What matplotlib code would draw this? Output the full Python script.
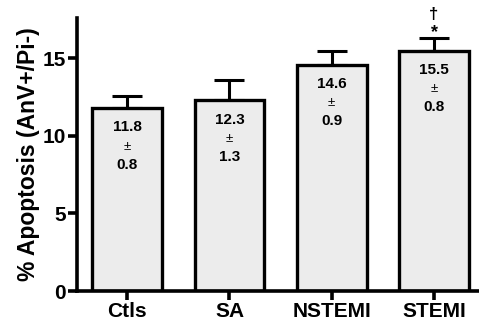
import numpy as np
import matplotlib
matplotlib.use('Agg')
import matplotlib.pyplot as plt

plt.rcParams['font.family'] = ['Liberation Sans', 'DejaVu Sans']

groups = ['Ctls', 'SA', 'NSTEMI', 'STEMI']
means = [11.8, 12.3, 14.6, 15.5]
sems = [0.8, 1.3, 0.9, 0.8]
yticks = [0, 5, 10, 15]

fig = plt.figure(figsize=(4.79, 3.27), dpi=100)
ax = fig.add_axes([0.161, 0.110, 0.839, 0.835])

x = np.arange(len(groups))
ax.bar(x, means, width=0.68, color='#ececec', edgecolor='black', linewidth=2.4, zorder=2)
ax.errorbar(x, means, yerr=[np.zeros(len(sems)), sems], fmt='none', ecolor='black',
            elinewidth=2.2, capsize=11, capthick=2.2, zorder=1)

# mean +/- sem written inside each bar
for xi, m, s in zip(x, means, sems):
    ax.text(xi, m - 1.25, '%.1f' % m, ha='center', va='center', fontsize=11, fontweight='bold')
    ax.text(xi, m - 2.5, '\u00b1', ha='center', va='center', fontsize=9.5)
    ax.text(xi, m - 3.65, '%.1f' % s, ha='center', va='center', fontsize=11, fontweight='bold')

# significance marks on STEMI
ax.text(x[3], means[3] + sems[3] + 0.35, '*', ha='center', va='center', fontsize=13, fontweight='bold')
ax.text(x[3], means[3] + sems[3] + 1.55, '\u2020', ha='center', va='center', fontsize=12,
        fontweight='bold', clip_on=False)

ax.set_xlim(-0.49, 3.44)
ax.set_ylim(0, 17.6)
ax.set_yticks(yticks)
ax.set_xticks(x)
ax.set_xticklabels(groups)
ax.set_ylabel('% Apoptosis (AnV+/Pi-)', fontsize=16.5, fontweight='bold', labelpad=2)

for lab in ax.get_xticklabels() + ax.get_yticklabels():
    lab.set_fontweight('bold')
    lab.set_fontsize(15)

ax.spines['top'].set_visible(False)
ax.spines['right'].set_visible(False)
ax.spines['left'].set_linewidth(2.6)
ax.spines['bottom'].set_linewidth(2.6)
ax.tick_params(axis='both', width=2.6, length=6.5, pad=1.5)

fig.savefig('out.png', dpi=100)
